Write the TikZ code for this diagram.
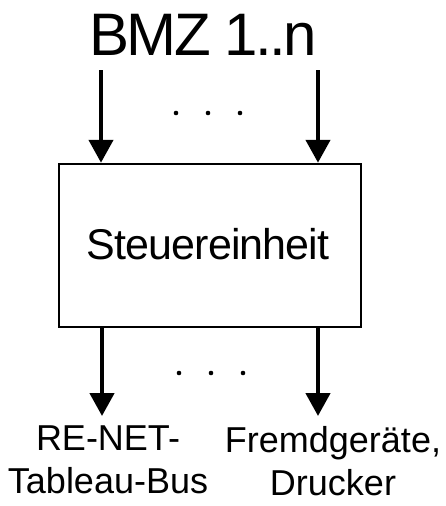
\documentclass[tikz,border=0pt]{standalone}
\usepackage{fontspec}
\setmainfont{Liberation Sans}
\usetikzlibrary{arrows.meta}
\begin{document}
\begin{tikzpicture}[x=1pt,y=-1pt,
  arr/.style={line width=4.5pt,-{Triangle[width=24pt,length=23pt]}},
  unit/.style={draw,line width=2.5pt,minimum width=302pt,minimum height=163pt,inner sep=0pt},
  dot/.style={fill,radius=2.3pt},
  lbl/.style={align=center,anchor=north,inner sep=0pt,font=\fontsize{36}{43}\selectfont}]
\useasboundingbox (0,0) rectangle (446,506);

% title
\node[anchor=base,inner sep=0pt,font=\fontsize{60}{60}\selectfont\addfontfeature{LetterSpace=-4.5}]
  (title) at (203,55) {BMZ 1..n};

% control unit
\node[unit] (ctrl) at (210,245.5) {};
\node[anchor=base,inner sep=0pt,font=\fontsize{43}{43}\selectfont\addfontfeature{LetterSpace=-2}]
  (ctrltext) at (208,259) {Steuereinheit};

% inputs
\coordinate (in1) at (101,70);
\coordinate (in2) at (318,70);
\draw[arr] (in1) -- (in1 |- ctrl.north);
\draw[arr] (in2) -- (in2 |- ctrl.north);
\fill[dot] (176,113) circle;
\fill[dot] (208,113) circle;
\fill[dot] (240,113) circle;

% outputs
\coordinate (out1) at (102,416);
\coordinate (out2) at (318,416);
\draw[arr] (out1 |- ctrl.south) -- (out1);
\draw[arr] (out2 |- ctrl.south) -- (out2);
\fill[dot] (179,373) circle;
\fill[dot] (211,373) circle;
\fill[dot] (243,373) circle;

% output labels
\node[lbl] (bus) at (108,426) {RE-NET-\\Tableau-Bus};
\node[lbl] (ext) at (333,426) {Fremdgeräte,\\Drucker};
\end{tikzpicture}
\end{document}
